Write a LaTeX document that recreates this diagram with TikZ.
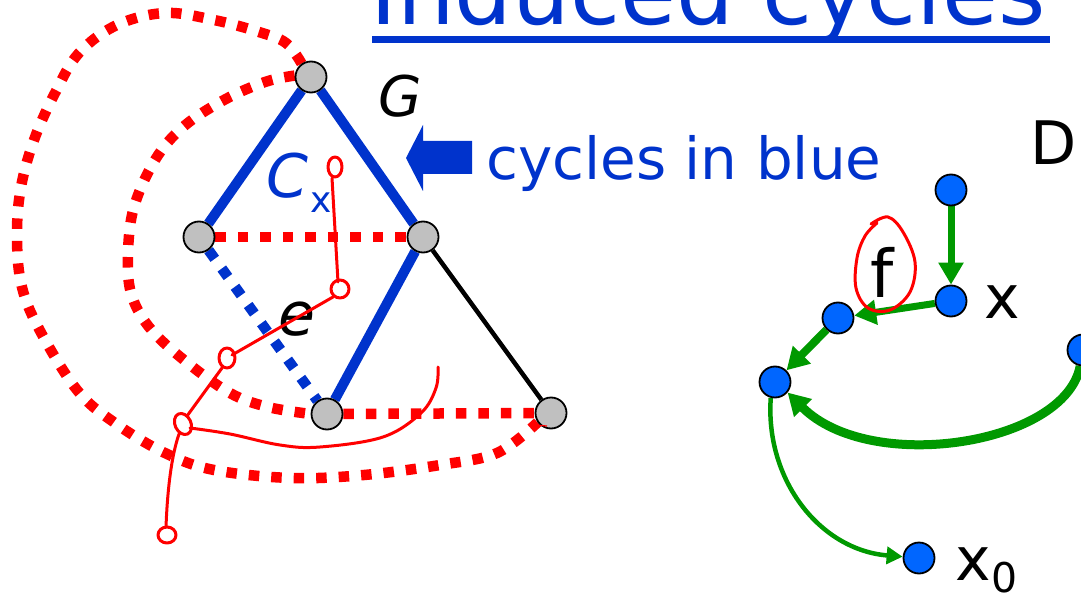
\documentclass[tikz,border=0pt]{standalone}
\usepackage{fontspec}
\setmainfont{DejaVu Sans}
\usetikzlibrary{arrows.meta}
\definecolor{tblue}{HTML}{0033CC}
\definecolor{nblue}{HTML}{0066FF}
\definecolor{ngray}{HTML}{C0C0C0}
\definecolor{tgreen}{HTML}{009900}
\pgfdeclarelayer{bg}
\pgfsetlayers{bg,main}
\newcommand{\fsz}[1]{\fontsize{#1}{#1}\selectfont}
\begin{document}
\begin{tikzpicture}[x=1pt,y=-1pt,
  gnode/.style={circle,draw=black,line width=1.8pt,fill=ngray,minimum size=31pt,inner sep=0pt},
  dnode/.style={circle,draw=black,line width=1.8pt,fill=nblue,minimum size=31pt,inner sep=0pt},
  lbl/.style={inner sep=0pt,anchor=base west},
  cyc/.style={draw=tblue,line width=10pt},
  reddot/.style={draw=red,line width=10.5pt,dash pattern=on 10.5pt off 12pt},
  bluedot/.style={draw=tblue,line width=10.5pt,dash pattern=on 10.5pt off 12pt},
  scrib/.style={draw=red,line width=3pt,line cap=round,line join=round},
  garrow/.style={draw=tgreen,-{Triangle[length=22pt,width=24pt]}},
  gthin/.style={draw=tgreen,line width=4.5pt,-{Triangle[length=16pt,width=17pt]}}]
\useasboundingbox (0,0) rectangle (1081,596);

% title
\node[lbl,text=tblue] (title) at (370,25) {\fsz{91}Induced cycles};
\fill[tblue] (372,36) rectangle (1050,43);

% G nodes
\node[gnode] (T) at (311,77) {};
\node[gnode] (L) at (199,237) {};
\node[gnode] (R) at (423,237) {};
\node[gnode] (M) at (327,414) {};
\node[gnode] (B) at (551,413) {};

% D nodes
\node[dnode] (Dt) at (951,190) {};
\node[dnode] (Dx) at (951,301) {};
\node[dnode] (Df) at (838,318) {};
\node[dnode] (Dl) at (775,382) {};
\node[dnode] (Dr) at (1083,350) {};
\node[dnode] (D0) at (919,558) {};

% labels
\node[lbl] (Glab) at (378,117) {\fsz{56}\itshape G};
\node[lbl] (Dlab) at (1030,165) {\fsz{60}D};
\node[lbl,text=tblue] (cyc) at (486,180) {\fsz{58}cycles in blue};
\node[lbl,text=tblue] (Cx) at (266,197) {\fsz{60}\itshape C};
\node[lbl,text=tblue] (Cxs) at (310,212) {\fsz{36}x};
\node[lbl] (elab) at (278,335) {\fsz{60}\itshape e};
\node[lbl] (flab) at (870,297) {\fsz{66}f};
\node[lbl] (xlab) at (984,318) {\fsz{60}x};
\node[lbl] (x0lab) at (955,580) {\fsz{60}x};
\node[lbl] (x0sub) at (991,592) {\fsz{41}0};

% block arrow
\fill[tblue] (472,141) -- (423,141) -- (423,125) -- (406,158) -- (423,191) -- (423,174) -- (472,174) -- cycle;

\begin{pgfonlayer}{bg}
% G edges
\draw[reddot] plot[smooth,tension=0.6] coordinates {(T.125) (286,43) (259,32) (214,20) (165,13) (117,25) (79,53) (55,93) (34,140) (21,187) (17,233) (21,283) (38,327) (77,390) (115,423) (165,453) (214,470) (291,478) (364,475) (440,465) (497,453) (B.215)};
\draw[reddot] plot[smooth,tension=0.6] coordinates {(T.175) (265,82) (224,100) (183,127) (155,160) (134,207) (128,253) (131,293) (149,327) (184,360) (230,393) (268,407) (M.180)};
\draw[cyc] (T) -- (L);
\draw[cyc] (T) -- (R);
\draw[cyc] (R) -- (M);
\draw[black,line width=4.5pt] (R) -- (B);
\draw[reddot] (L) -- (R);
\draw[reddot] (M) -- (B);
\draw[bluedot] (L) -- (M);
% D edges
\draw[garrow,line width=7pt] (Dt) -- (Dx);
\draw[garrow,line width=7pt] (Dx) -- (Df);
\draw[garrow,line width=8pt] (Df) -- (Dl);
\draw[garrow,line width=9pt] (Dr.260) .. controls (1065,445) and (870,475) .. (Dl.-40);
\draw[gthin] (Dl.255) .. controls (765,480) and (820,550) .. (D0);
\end{pgfonlayer}

% red scribbles
\draw[scrib] (335,167) ellipse[x radius=7,y radius=10];
\draw[scrib] (332,178) -- (338,282);
\draw[scrib] (340,289) ellipse[x radius=9,y radius=9];
\draw[scrib] (333,297) -- (232,355);
\draw[scrib] (227,358) ellipse[x radius=8,y radius=10];
\draw[scrib] (222,368) -- (187,416);
\draw[scrib,rotate around={25:(183,424)}] (183,424) ellipse[x radius=8,y radius=11];
\draw[scrib] (179,434) .. controls (170,460) and (167,500) .. (166,527);
\draw[scrib] (167,535) ellipse[x radius=9,y radius=8];
\draw[scrib] plot[smooth,tension=0.6] coordinates {(190,428) (230,434) (280,445) (320,447) (383,437) (421,413) (436,388) (438,367)};
\draw[red,line width=1.2pt] (535,425) -- (547,426);
\draw[scrib] plot[smooth,tension=0.6] coordinates {(871,224) (888,217) (903,232) (915,262) (910,292) (890,310) (868,308) (856,288) (857,258) (865,236) (877,223)};
\end{tikzpicture}
\end{document}
